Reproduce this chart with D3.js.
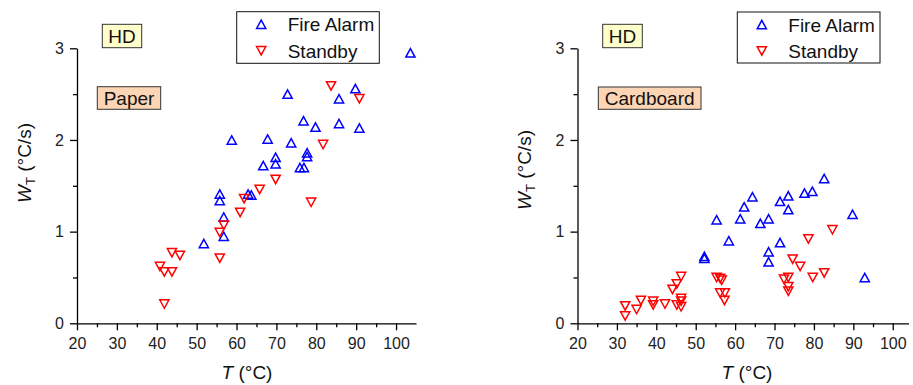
<!DOCTYPE html>
<html><head><meta charset="utf-8">
<script src="https://cdn.jsdelivr.net/npm/d3@7"></script>
<style>
body{margin:0;background:#fff;}
svg{display:block;font-family:"Liberation Sans",Arial,sans-serif;}
</style></head>
<body><svg id="c" width="913" height="385"></svg>
<script>
const xTicks = [20,30,40,50,60,70,80,90,100];
const xMinor = [25,35,45,55,65,75,85,95];
const yTicks = [0,1,2,3];
const yMinor = [0.5,1.5,2.5];
const seriesNames = ["Fire Alarm","Standby"];

const paperAlarmT = [51.8,55.8,55.8,56.8,56.8,58.8,62.9,63.7,66.7,67.8,69.8,69.8,72.8,73.7,75.9,76.9,76.8,77.7,77.7,79.8,85.7,85.7,89.8,90.8,103.6];
const paperAlarmW = [0.87,1.41,1.34,1.16,0.95,2.00,1.41,1.40,1.72,2.01,1.81,1.74,2.50,1.97,1.70,1.70,2.21,1.86,1.82,2.14,2.45,2.18,2.56,2.13,2.95];
const paperStandbyT = [40.8,41.9,41.9,43.8,43.8,45.8,55.8,55.8,56.8,60.9,61.9,65.8,69.8,78.7,81.7,83.7,90.8];
const paperStandbyW = [0.62,0.56,0.21,0.77,0.56,0.74,0.99,0.71,1.07,1.21,1.36,1.46,1.57,1.32,1.95,2.59,2.45];

const cardAlarmT = [52.2,52.2,55.3,58.4,61.3,62.3,64.4,66.4,68.5,68.5,68.5,71.4,71.4,73.5,73.5,77.6,79.6,82.6,89.8,92.9];
const cardAlarmW = [0.73,0.71,1.13,0.90,1.14,1.27,1.38,1.09,1.14,0.78,0.67,1.33,0.88,1.39,1.24,1.42,1.44,1.58,1.19,0.50];
const cardStandbyT = [32.1,32.1,35.0,36.1,39.2,39.2,42.2,44.1,45.2,45.2,46.3,46.3,46.3,46.3,55.3,56.2,56.6,56.2,57.4,57.3,72.4,73.5,73.5,73.5,74.6,76.5,78.6,79.7,82.6,84.7];
const cardStandbyW = [0.19,0.08,0.15,0.25,0.24,0.20,0.21,0.37,0.43,0.20,0.51,0.27,0.24,0.18,0.50,0.49,0.47,0.33,0.33,0.25,0.48,0.50,0.40,0.35,0.70,0.62,0.92,0.50,0.55,1.02];

const svg = d3.select("#c");
const FONT = 19;
const upPath = "M0,-4.2L4.6,4.2L-4.6,4.2Z";
const downPath = "M-4.6,-4.2L4.6,-4.2L0,4.2Z";

const panels = [
  {x0:77, x1:416, dom:[20,105], alarmT:paperAlarmT, alarmW:paperAlarmW, standT:paperStandbyT, standW:paperStandbyW,
   label:"Paper", hd:[102.3,24.3,39.4,23.4], lab:[97.3,86.7,63.4,22.6], leg:[236.7,11.7,142.6,51.6], yTitle:[31,163], xTitle:247},
  {x0:577.5, x1:908.5, dom:[20,104], alarmT:cardAlarmT, alarmW:cardAlarmW, standT:cardStandbyT, standW:cardStandbyW,
   label:"Cardboard", hd:[602.7,24.3,39.6,23.4], lab:[598.3,87,102.7,22.3], leg:[737.3,12,142.7,51], yTitle:[531,170], xTitle:747}
];

panels.forEach(p => {
  const x = d3.scaleLinear().domain(p.dom).range([p.x0, p.x1]);
  const y = d3.scaleLinear().domain([0,3]).range([323.3, 48.3]);
  const g = svg.append("g");

  g.append("g").attr("transform",`translate(0,${y(0)})`)
    .call(d3.axisBottom(x).tickValues(xMinor).tickSize(4).tickFormat(""))
    .call(a=>a.select(".domain").remove());
  g.append("g").attr("transform",`translate(${p.x0},0)`)
    .call(d3.axisLeft(y).tickValues(yMinor).tickSize(4).tickFormat(""))
    .call(a=>a.select(".domain").remove());
  g.append("g").attr("transform",`translate(0,${y(0)})`)
    .call(d3.axisBottom(x).tickValues(xTicks).tickFormat(d3.format("d")).tickSize(7).tickPadding(7).tickSizeOuter(0));
  g.append("g").attr("transform",`translate(${p.x0},0)`)
    .call(d3.axisLeft(y).tickValues(yTicks).tickFormat(d3.format("d")).tickSize(7).tickPadding(6).tickSizeOuter(0));
  g.selectAll(".tick line, .domain").attr("stroke","#000").attr("stroke-width",1.3);
  g.selectAll(".tick text").attr("font-size",16).attr("font-family","Liberation Sans, Arial, sans-serif").attr("fill","#222");

  const xt = g.append("text").attr("x",p.xTitle).attr("y",379).attr("text-anchor","middle")
    .attr("font-size",19).attr("fill","#111");
  xt.append("tspan").attr("font-style","italic").text("T");
  xt.append("tspan").text(" (°C)");

  const yt = g.append("text").attr("transform",`translate(${p.yTitle[0]},${p.yTitle[1]}) rotate(-90)`)
    .attr("text-anchor","middle").attr("font-size",19).attr("fill","#111");
  yt.append("tspan").attr("font-style","italic").text("W");
  yt.append("tspan").attr("font-size",13).attr("dy",4).text("T");
  yt.append("tspan").attr("dy",-4).text(" (°C/s)");

  const pts = g.append("g").attr("fill","none").attr("stroke-width",1.5);
  pts.selectAll("path.a").data(d3.range(p.alarmT.length)).join("path").attr("class","a")
    .attr("d",upPath).attr("stroke","#0000ff")
    .attr("transform",i=>`translate(${x(p.alarmT[i])},${y(p.alarmW[i])})`);
  pts.selectAll("path.s").data(d3.range(p.standT.length)).join("path").attr("class","s")
    .attr("d",downPath).attr("stroke","#ff0000")
    .attr("transform",i=>`translate(${x(p.standT[i])},${y(p.standW[i])})`);

  g.append("rect").attr("x",p.hd[0]).attr("y",p.hd[1]).attr("width",p.hd[2]).attr("height",p.hd[3])
    .attr("fill","#ffffcc").attr("stroke","#333").attr("stroke-width",1);
  g.append("text").attr("x",p.hd[0]+p.hd[2]/2).attr("y",p.hd[1]+19).attr("text-anchor","middle")
    .attr("font-size",FONT).attr("fill","#111").text("HD");
  g.append("rect").attr("x",p.lab[0]).attr("y",p.lab[1]).attr("width",p.lab[2]).attr("height",p.lab[3])
    .attr("fill","#fcd5b5").attr("stroke","#333").attr("stroke-width",1);
  g.append("text").attr("x",p.lab[0]+p.lab[2]/2).attr("y",p.lab[1]+17.8).attr("text-anchor","middle")
    .attr("font-size",FONT).attr("fill","#111").text(p.label);

  const L = p.leg;
  g.append("rect").attr("x",L[0]).attr("y",L[1]).attr("width",L[2]).attr("height",L[3])
    .attr("fill","#fff").attr("stroke","#111").attr("stroke-width",1);
  const mx = L[0]+24.5, tx = L[0]+51;
  [[upPath,"#0000ff",L[1]+12.6],[downPath,"#ff0000",L[1]+39]].forEach((m,i)=>{
    g.append("path").attr("d",m[0]).attr("stroke",m[1]).attr("fill","none").attr("stroke-width",1.5)
      .attr("transform",`translate(${mx},${m[2]})`);
    g.append("text").attr("x",tx).attr("y",m[2]+7).attr("font-size",FONT).attr("fill","#111").text(seriesNames[i]);
  });
});
</script></body></html>
